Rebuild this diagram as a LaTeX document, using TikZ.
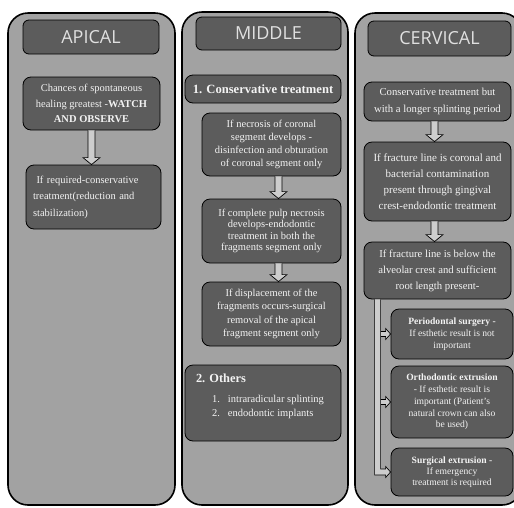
\documentclass[tikz,border=0pt]{standalone}
\usepackage{fontspec}
\setmainfont{Liberation Serif}
\newfontfamily\titlefont{Open Sans}
\usetikzlibrary{calc}
\definecolor{colgray}{RGB}{162,162,162}
\definecolor{boxgray}{RGB}{92,92,92}
\definecolor{arrowgray}{RGB}{205,205,205}
\definecolor{textwhite}{RGB}{243,243,243}
\tikzset{
	column/.style={draw=black, line width=1.6pt, fill=colgray, rounded corners=20pt},
	titlebox/.style={draw=black, line width=0.8pt, fill=boxgray, rounded corners=6pt, text=textwhite!92!black, inner sep=0pt, font=\titlefont\fontsize{18}{20}\selectfont},
	stepbox/.style={draw=black, line width=0.8pt, fill=boxgray, rounded corners=8pt, text=textwhite, align=center, inner sep=0pt, font=\fontsize{10.5}{13}\selectfont},
	hollow/.style={draw=black, line width=0.7pt, fill=arrowgray}
}
\def\hollowdown(#1)(#2)(#3){\path ($(#1)+(#3,0)$) coordinate (s); \path (s|-#2) coordinate (t);
	\draw[hollow] ($(s)+(-3.5,0)$) -- ($(t)+(-3.5,-7)$) -- ($(t)+(-8.5,-7)$) -- (t) -- ($(t)+(8.5,-7)$) -- ($(t)+(3.5,-7)$) -- ($(s)+(3.5,0)$);}
\def\hollowright(#1)(#2){\path (#1|-#2) coordinate (s) (#2) coordinate (t);
	\draw[hollow] ($(s)+(0,-2.5)$) -- ($(t)+(-5,-2.5)$) -- ($(t)+(-5,-5.5)$) -- (t) -- ($(t)+(-5,5.5)$) -- ($(t)+(-5,2.5)$) -- ($(s)+(0,2.5)$);}

\begin{document}
\begin{tikzpicture}[x=1pt, y=-1pt]
		%%%%% START %%%%%
		\useasboundingbox (0, 0) rectangle (514, 507);
		\clip (0, 0) rectangle (514, 507);
		
		\draw[column] (8, 13) rectangle (175, 505);
		\draw[column] (182, 12) rectangle (348, 505);
		\draw[column] (355, 13) rectangle (522, 505);
		
		\node[titlebox, minimum width=136, minimum height=34] (tApical) at (91, 37) {APICAL};
		\node[titlebox, minimum width=145, minimum height=33] (tMiddle) at (268.5, 33.5) {MIDDLE};
		\node[titlebox, minimum width=143, minimum height=35] (tCervical) at (439.5, 38.5) {CERVICAL};
		
		% apical
		\node[stepbox, minimum width=137, minimum height=53, font=\fontsize{10.5}{15.5}\selectfont] (a1) at (91.5, 103.5) {Chances of spontaneous\\healing greatest -\textbf{WATCH}\\\textbf{AND OBSERVE}};
		\node[stepbox, minimum width=135, minimum height=64, text width=121, align=left, font=\fontsize{10.5}{16.5}\selectfont] (a2) at (93.5, 197) {\ If required-conservative\\treatment(reduction and\\stabilization)};
		\hollowdown(a1.south)(a2.north)(0)
		
		% middle
		\node[stepbox, minimum width=156, minimum height=28, font=\fontsize{12.6}{14}\selectfont\bfseries] (m0) at (263, 89) {1. Conservative treatment};
		\node[stepbox, minimum width=139, minimum height=63] (m1) at (271.5, 144.5) {If necrosis of coronal\\segment develops -\\disinfection and obturation\\of coronal segment only};
		\node[stepbox, minimum width=139, minimum height=64, font=\fontsize{10.5}{11.5}\selectfont] (m2) at (271.5, 231) {If complete pulp necrosis\\develops-endodontic\\treatment in both the\\fragments segment only};
		\node[stepbox, minimum width=139, minimum height=64, font=\fontsize{10.5}{13.5}\selectfont] (m3) at (271.5, 314) {If displacement of the\\fragments occurs-surgical\\removal of the apical\\fragment segment only};
		\hollowdown(m1.south)(m2.north)(7)
		\hollowdown(m2.south)(m3.north)(7)
		\node[stepbox, minimum width=156, minimum height=76, align=left, font=\fontsize{10.5}{13.3}\selectfont] (m4) at (263, 403) {\parbox[c][66pt][t]{134pt}{\vspace*{4pt}{\fontsize{12.4}{14}\selectfont\bfseries 2. Others}\\[7pt]
			\hspace*{16pt}\makebox[16pt][l]{1.}intraradicular splinting\\
			\hspace*{16pt}\makebox[16pt][l]{2.}endodontic implants}};
		
		% cervical
		\node[stepbox, minimum width=147, minimum height=39, font=\fontsize{10.7}{17.5}\selectfont] (c1) at (437.5, 101.5) {Conservative treatment but\\with a longer splinting period};
		\node[stepbox, minimum width=147, minimum height=79, font=\fontsize{11}{16}\selectfont] (c2) at (437.5, 181.5) {If fracture line is coronal and\\bacterial contamination\\present through gingival\\crest-endodontic treatment};
		\node[stepbox, minimum width=147, minimum height=57, font=\fontsize{10.7}{16}\selectfont] (c3) at (437.5, 270.5) {If fracture line is below the\\alveolar crest and sufficient\\root length present-};
		\hollowdown(c1.south)(c2.north)(-3)
		\hollowdown(c2.south)(c3.north)(-3)
		
		\node[stepbox, minimum width=122, minimum height=50, font=\fontsize{9.6}{12}\selectfont] (c4) at (452, 334) {\textbf{Periodontal surgery -}\\If esthetic result is not\\important};
		\node[stepbox, minimum width=122, minimum height=72, font=\fontsize{9.6}{11.7}\selectfont] (c5) at (452, 402) {\textbf{Orthodontic extrusion}\\- If esthetic result is\\important (Patient’s\\natural crown can also\\be used)};
		\node[stepbox, minimum width=122, minimum height=48, font=\fontsize{9.6}{11}\selectfont] (c6) at (452, 472) {\textbf{Surgical extrusion -}\\If emergency\\treatment is required};
		
		\coordinate (pipeL) at ($(c3.south west)+(11,0)$);
		\coordinate (pipeR) at ($(pipeL)+(6,0)$);
		\path (pipeL|-c6.west) coordinate (pipeB);
		\hollowright(pipeR)(c4.west)
		\hollowright(pipeR)(c5.west)
		\draw[hollow] (pipeL) -- ($(pipeB)+(0,3)$) -- ($(c6.west)+(-5,3)$) -- ($(c6.west)+(-5,5.5)$) -- (c6.west) -- ($(c6.west)+(-5,-5.5)$) -- ($(c6.west)+(-5,-3)$) -- ($(pipeB)+(6,-3)$) -- (pipeR);
		
		%%%%% END %%%%%
\end{tikzpicture}
\end{document}
